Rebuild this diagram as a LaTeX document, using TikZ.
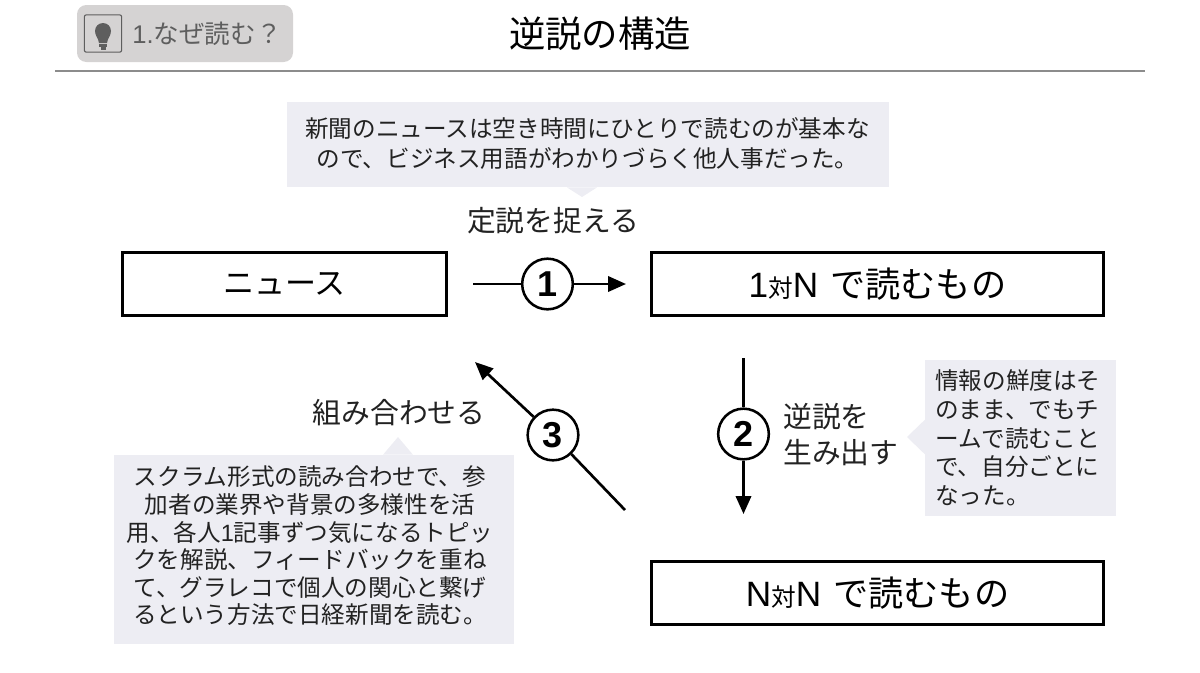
\documentclass[tikz,border=0pt]{standalone}
\usepackage{fontspec}
\setmainfont{Noto Sans CJK JP}
\newfontfamily\latinfont{Liberation Sans}
\usepackage{tikz}
\usetikzlibrary{
    arrows.meta,
}
\definecolor{memofill}{HTML}{EDEDF3}
\definecolor{tabfill}{HTML}{D5D3D3}
\definecolor{tabtext}{HTML}{5E5E5E}
\definecolor{inktext}{HTML}{222222}
\newcommand{\pairlabel}[2]{{\latinfont #1}{\fontsize{18.5}{20}\selectfont 対}{\latinfont #2}\hspace{9pt}で読むもの}
\tikzset{
    phrase/.style = {
        rectangle,
        minimum width=339pt,
        minimum height=47.5pt,
        line width=2.5pt,
        inner sep=0pt,
        font=\fontsize{26.4}{28}\selectfont,
        text=black,
        draw,
    },
    step mark/.style = {
        circle,
        minimum size=38pt,
        inner sep=0pt,
        line width=1.9pt,
        fill=white,
        font=\latinfont\bfseries\fontsize{27}{27}\selectfont,
        draw,
    },
    verb/.style = {
        inner sep=0pt,
        align=left,
        text=inktext,
        font=\fontsize{21.6}{27}\selectfont,
    },
    memo/.style = {
        rectangle,
        fill=memofill,
        inner sep=0pt,
    },
    memotext/.style = {
        inner sep=0pt,
        align=center,
        text=inktext,
        font=\fontsize{17.7}{22.5}\selectfont,
    },
    arrow/.style = {
        line width=2pt,
        -{Triangle[length=13.5pt,width=11.5pt]},
    },
    plainline/.style = {
        line width=2pt,
    },
}
\begin{document}
\begin{tikzpicture}[x=0.75pt,y=-0.75pt]
    \useasboundingbox (0,0) rectangle (1200,672);

    \node [fill=tabfill, rounded corners=7pt, minimum width=162pt, minimum height=42.75pt, inner sep=0pt] (tab) at (185,33.5) {};
    \node [draw=tabtext, line width=0.8pt, rounded corners=1.5pt, minimum width=28pt, minimum height=28pt, inner sep=0pt] (bulbbox) at (103,33.5) {};
    \fill [tabtext] (95,31) arc [start angle=180, end angle=360, radius=8] .. controls (111,36) and (107.5,38) .. (107,43) -- (99,43) .. controls (98.5,38) and (95,36) .. (95,31) -- cycle;
    \fill [tabtext] (99,44) rectangle (107,47);
    \fill [tabtext] (100.5,47) rectangle (105.5,49.5);
    \node [anchor=west, inner sep=0pt, text=tabtext, font=\fontsize{19.2}{20}\selectfont] (tabtitle) at (132,33.5) {{\latinfont 1.}なぜ読む？};
    \node [inner sep=0pt, font=\fontsize{27.3}{30}\selectfont] (title) at (600,34) {逆説の構造};
    \coordinate (ruleleft) at (55,71);
    \coordinate (ruleright) at (1145,71);
    \draw [black!45, line width=0.8pt] (ruleleft) -- (ruleright);

    \node [phrase, minimum width=243pt, font=\fontsize{23.3}{28}\selectfont] (news) at (284.5,284) {ニュース};
    \node [phrase] (onetomany) at (877.5,284) {\pairlabel{1}{N}};
    \node [phrase] (manytomany) at (877.5,593) {\pairlabel{N}{N}};

    \node [step mark] (markone) at (547.5,284) {1};
    \node [step mark] (marktwo) at (743.5,434) {2};
    \node [step mark] (markthree) at (553,435) {3};

    \coordinate (onefrom) at (473,284);
    \coordinate (oneto) at (626,284);
    \coordinate (twofrom) at (743.5,358);
    \coordinate (twoto) at (743.5,514);
    \coordinate (threefrom) at (625,510);
    \coordinate (threeto) at (475,362);

    \draw [plainline] (onefrom) -- (markone);
    \draw [arrow] (markone) -- (oneto);
    \draw [plainline] (twofrom) -- (marktwo);
    \draw [arrow] (marktwo) -- (twoto);
    \draw [plainline] (threefrom) -- (markthree);
    \draw [arrow] (markthree) -- (threeto);

    \node [verb] (grasp) at (553,221) {定説を捉える};
    \node [verb, anchor=west] (create) at (783,435) {逆説を\\生み出す};
    \node [verb] (combine) at (399,413) {組み合わせる};

    % speech boxes, the tip of each one is a small filled triangle
    \node [memo, minimum width=451.5pt, minimum height=64pt] (memotop) at (588,144.5) {};
    \coordinate (toptip) at (582,197);
    \fill [memofill] ([xshift=-11.25pt]memotop.south -| toptip) -- (toptip) -- ([xshift=11.25pt]memotop.south -| toptip) -- cycle;
    \node [memotext] (memotoptext) at (587.5,144)
    {新聞のニュースは空き時間にひとりで読むのが基本な\\ので、ビジネス用語がわかりづらく他人事だった。};

    \node [memo, minimum width=143pt, minimum height=117pt] (memoright) at (1020.5,438) {};
    \coordinate (righttip) at (907,437);
    \fill [memofill] ([yshift=13pt]memoright.west |- righttip) -- (righttip) -- ([yshift=-13pt]memoright.west |- righttip) -- cycle;
    \node [memotext, align=left, anchor=west, font=\fontsize{17.7}{21.5}\selectfont] (memorighttext) at (935,438)
    {情報の鮮度はそ\\のまま、でもチ\\ームで読むこと\\で、自分ごとに\\なった。};

    \node [memo, minimum width=300pt, minimum height=141.75pt] (memoleft) at (314,549.5) {};
    \coordinate (lefttip) at (398,437);
    \fill [memofill] ([xshift=-11.25pt]memoleft.north -| lefttip) -- (lefttip) -- ([xshift=11.25pt]memoleft.north -| lefttip) -- cycle;
    \node [memotext, font=\fontsize{17.7}{20.7}\selectfont] (memolefttext) at (310,546)
    {スクラム形式の読み合わせで、参\\加者の業界や背景の多様性を活\\用、各人{\latinfont 1}記事ずつ気になるトピッ\\クを解説、フィードバックを重ね\\て、グラレコで個人の関心と繋げ\\るという方法で日経新聞を読む。};
\end{tikzpicture}
\end{document}
